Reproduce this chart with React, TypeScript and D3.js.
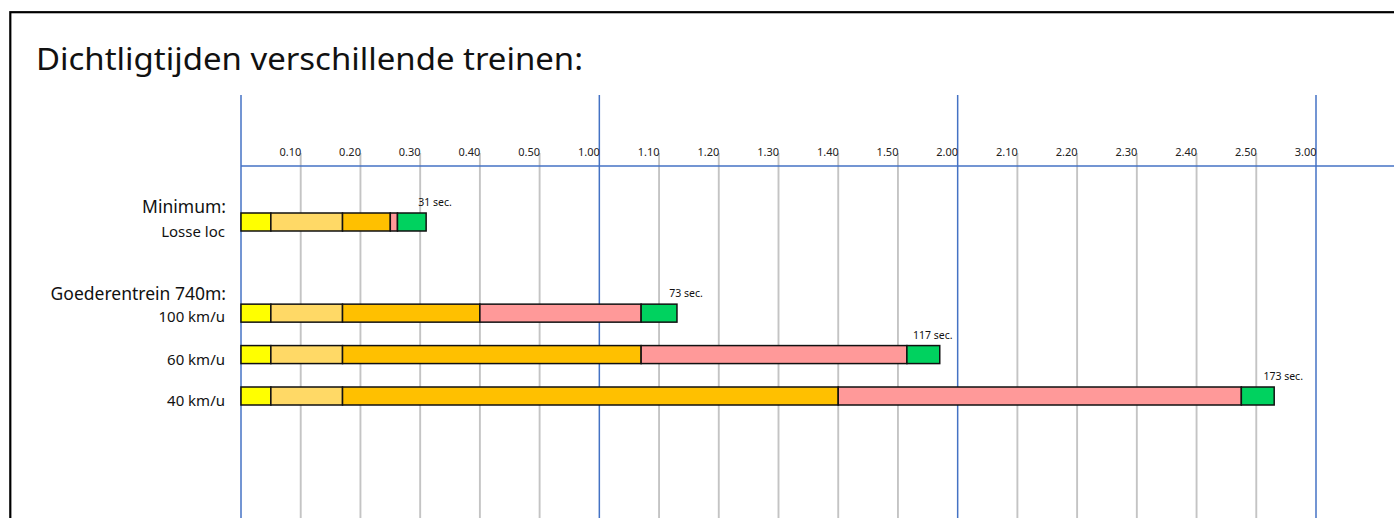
import React from "react";
import * as d3 from "d3";

const title = "Dichtligtijden verschillende treinen:";

const groupLabels = ["Minimum:", "Goederentrein 740m:"];
const rowLabels = ["Losse loc", "100 km/u", "60 km/u", "40 km/u"];
const rowGroup = [0, 1, 1, 1];

// seconds per phase, in order of the colours below
const phaseColors = ["#FFFF00", "#FFD966", "#FFC000", "#FF9999", "#00D25F"];
const phaseSeconds = [
  [5, 12, 8, 1.2, 4.8],
  [5, 12, 23, 27, 6],
  [5, 12, 50, 44.5, 5.5],
  [5, 12, 83, 67.5, 5.5],
];
const totalLabels = ["31 sec.", "73 sec.", "117 sec.", "173 sec."];

const tickSeconds = [10, 20, 30, 40, 50, 60, 70, 80, 90, 100, 110, 120, 130, 140, 150, 160, 170, 180];
const tickLabels = [
  "0.10", "0.20", "0.30", "0.40", "0.50", "1.00",
  "1.10", "1.20", "1.30", "1.40", "1.50", "2.00",
  "2.10", "2.20", "2.30", "2.40", "2.50", "3.00",
];
const majorSeconds = [0, 60, 120, 180];

const W = 1394;
const H = 518;
const FONT = "'Noto Sans', 'Open Sans', sans-serif";

export default function App() {
  const x = d3.scaleLinear().domain([0, 180]).range([241, 1316]);

  // rows laid out in slots, with an extra gap between the two groups
  const groupGap = 1.2;
  const slots = rowLabels.map((_, i) => i + (rowGroup[i] > 0 ? groupGap : 0));
  const y = d3.scaleLinear().domain([0, d3.max(slots)!]).range([213, 387]);
  const barH = 18;

  const axisY = 166;
  const gridTop = 153;
  const majorTop = 95;

  return (
    <svg
      width={W}
      height={H}
      style={{ position: "absolute", left: 0, top: 0, background: "#fff" }}
      fontFamily={FONT}
    >
      <rect x={0} y={0} width={W} height={H} fill="#fff" />
      <rect x={10.3} y={12.2} width={W + 20} height={H + 20} fill="none" stroke="#000" strokeWidth={2.2} />

      <text x={36} y={70} fontSize={31} fill="#111" textLength={547} lengthAdjust="spacingAndGlyphs">
        {title}
      </text>

      {/* minor grid */}
      {tickSeconds
        .filter((s) => !majorSeconds.includes(s))
        .map((s) => (
          <line key={"g" + s} x1={x(s)} x2={x(s)} y1={gridTop} y2={H} stroke="#C4C4C4" strokeWidth={1.9} />
        ))}

      {/* major lines */}
      {majorSeconds.map((s) => (
        <line key={"m" + s} x1={x(s)} x2={x(s)} y1={majorTop} y2={H} stroke="#4472C4" strokeWidth={1.5} />
      ))}
      <line x1={x(0)} x2={W} y1={axisY} y2={axisY} stroke="#4472C4" strokeWidth={1.5} />

      {tickSeconds.map((s, i) => (
        <text key={"t" + s} x={x(s) + 0.5} y={156} fontSize={11} textAnchor="end" fill="#222">
          {tickLabels[i]}
        </text>
      ))}

      {rowLabels.map((label, i) => {
        const top = y(slots[i]);
        const mid = top + barH / 2;
        const firstInGroup = i === 0 || rowGroup[i] !== rowGroup[i - 1];
        const groupSize = rowGroup.filter((g) => g === rowGroup[i]).length;
        const stack = d3.cumsum(phaseSeconds[i]);
        const starts = [0, ...Array.from(stack).slice(0, -1)];
        const end = x(stack[stack.length - 1]);

        let labelY = mid + 10;
        if (firstInGroup) labelY = groupSize === 1 ? top + barH + 6 : mid + 8.5;
        const groupY = groupSize === 1 ? top : top - 4;

        // value label sits right of the bar end, but stays clear of the next major line
        const nextMajor = x(majorSeconds.find((m) => x(m) > end) ?? 180);
        const halfW = totalLabels[i].length * 2.85;
        let cx = end + 9;
        if (cx + halfW > nextMajor - 2) cx = nextMajor - 2 - halfW;

        return (
          <g key={label}>
            {firstInGroup && (
              <text x={226} y={groupY} fontSize={17.5} textAnchor="end" fill="#111">
                {groupLabels[rowGroup[i]]}
              </text>
            )}
            <text x={225} y={labelY} fontSize={15} textAnchor="end" fill="#111">
              {label}
            </text>
            {phaseSeconds[i].map((v, j) => (
              <rect
                key={j}
                x={x(starts[j])}
                y={top}
                width={x(starts[j] + v) - x(starts[j])}
                height={barH}
                fill={phaseColors[j]}
                stroke="#111"
                strokeWidth={1.5}
              />
            ))}
            <text x={cx} y={top - 7} fontSize={10.5} textAnchor="middle" fill="#111">
              {totalLabels[i]}
            </text>
          </g>
        );
      })}
    </svg>
  );
}
